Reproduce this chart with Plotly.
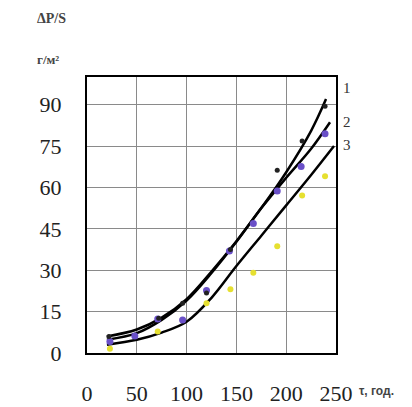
import plotly.graph_objects as go

# measured points
x1 = [22, 72, 96, 120, 144, 191, 216, 239]
y1 = [6.0, 12.6, 18.0, 21.7, 37.5, 66.2, 76.8, 89.4]
x2 = [23, 48, 71, 96, 120, 143, 167, 191, 215, 239]
y2 = [4.2, 6.2, 12.3, 12.0, 22.6, 37.0, 46.9, 58.7, 67.6, 79.4]
x3 = [23, 71, 96, 120, 144, 167, 191, 216, 239]
y3 = [1.5, 7.8, 12.0, 18.0, 23.1, 29.1, 38.7, 57.1, 64.0]

# fitted curves
c1x = [20, 50, 75, 100, 125, 150, 175, 200, 225, 240]
c1y = [6.0, 8.5, 12.8, 19.5, 29.5, 40.5, 52.5, 65.5, 80.5, 92.0]
c2x = [20, 50, 75, 100, 125, 150, 175, 200, 225, 244]
c2y = [4.8, 7.2, 12.0, 19.0, 29.0, 40.3, 52.5, 63.5, 74.0, 83.6]
c3x = [20, 50, 75, 100, 125, 150, 175, 200, 225, 248]
c3y = [3.0, 4.8, 7.4, 11.3, 20.0, 31.5, 42.5, 53.5, 64.5, 75.0]

xticks = [0, 50, 100, 150, 200, 250]
yticks = [0, 15, 30, 45, 60, 75, 90]
curve_labels = ["1", "2", "3"]
label_y = [96, 83.6, 75.3]

W, H = 404, 399
L, T = 79, 69
PW, PH = 249, 276.5

fig = go.Figure()
for cx, cy in [(c1x, c1y), (c2x, c2y), (c3x, c3y)]:
    fig.add_trace(go.Scatter(x=cx, y=cy, mode="lines",
                             line=dict(color="black", width=2.5, shape="spline", smoothing=1.0),
                             showlegend=False, hoverinfo="skip"))
fig.add_trace(go.Scatter(x=x3, y=y3, mode="markers", marker=dict(color="#e6e030", size=6), showlegend=False))
fig.add_trace(go.Scatter(x=x2, y=y2, mode="markers", marker=dict(color="#6a50c8", size=7), showlegend=False))
fig.add_trace(go.Scatter(x=x1, y=y1, mode="markers", marker=dict(color="#222222", size=5), showlegend=False))

for t, yv in zip(curve_labels, label_y):
    fig.add_annotation(x=1.0, xref="paper", xanchor="center", xshift=11, y=yv, yref="y", text=t,
                       showarrow=False, font=dict(family="Liberation Serif", size=15, color="#333"))

def px(xp):
    return (xp - 8 - L) / PW

def py(yp):
    return (T + PH - (yp - 8)) / PH

fig.add_annotation(x=px(35), y=py(18), xref="paper", yref="paper", xanchor="left", yanchor="middle",
                   text="<b>ΔP/S</b>", showarrow=False, font=dict(family="Liberation Serif", size=14, color="#444"))
fig.add_annotation(x=px(35), y=py(59), xref="paper", yref="paper", xanchor="left", yanchor="middle",
                   text="<b>г/м²</b>", showarrow=False, font=dict(family="Liberation Serif", size=13, color="#444"))
fig.add_annotation(x=px(357), y=py(392), xref="paper", yref="paper", xanchor="left", yanchor="middle",
                   text="<b>τ, год.</b>", showarrow=False, font=dict(family="Liberation Sans", size=12, color="#444"))

fig.update_xaxes(range=[0, 250], tickvals=xticks, ticktext=[str(v) for v in xticks],
                 showgrid=True, gridcolor="#8a8a8a", gridwidth=1, zeroline=False,
                 showline=True, linecolor="black", linewidth=2, mirror=True,
                 ticks="", ticklabelstandoff=20, automargin=False,
                 tickfont=dict(family="Liberation Serif", size=22, color="#222"))
fig.update_yaxes(range=[0, 100], tickvals=yticks, ticktext=[str(v) for v in yticks],
                 showgrid=True, gridcolor="#8a8a8a", gridwidth=1, zeroline=False,
                 showline=True, linecolor="black", linewidth=2, mirror=True,
                 ticks="", ticklabelstandoff=19, automargin=False,
                 tickfont=dict(family="Liberation Serif", size=22, color="#222"))
fig.update_layout(width=W, height=H, margin=dict(l=L, r=W - L - PW, t=T, b=H - T - PH),
                  plot_bgcolor="white", paper_bgcolor="white")
fig.write_html("out.html")
